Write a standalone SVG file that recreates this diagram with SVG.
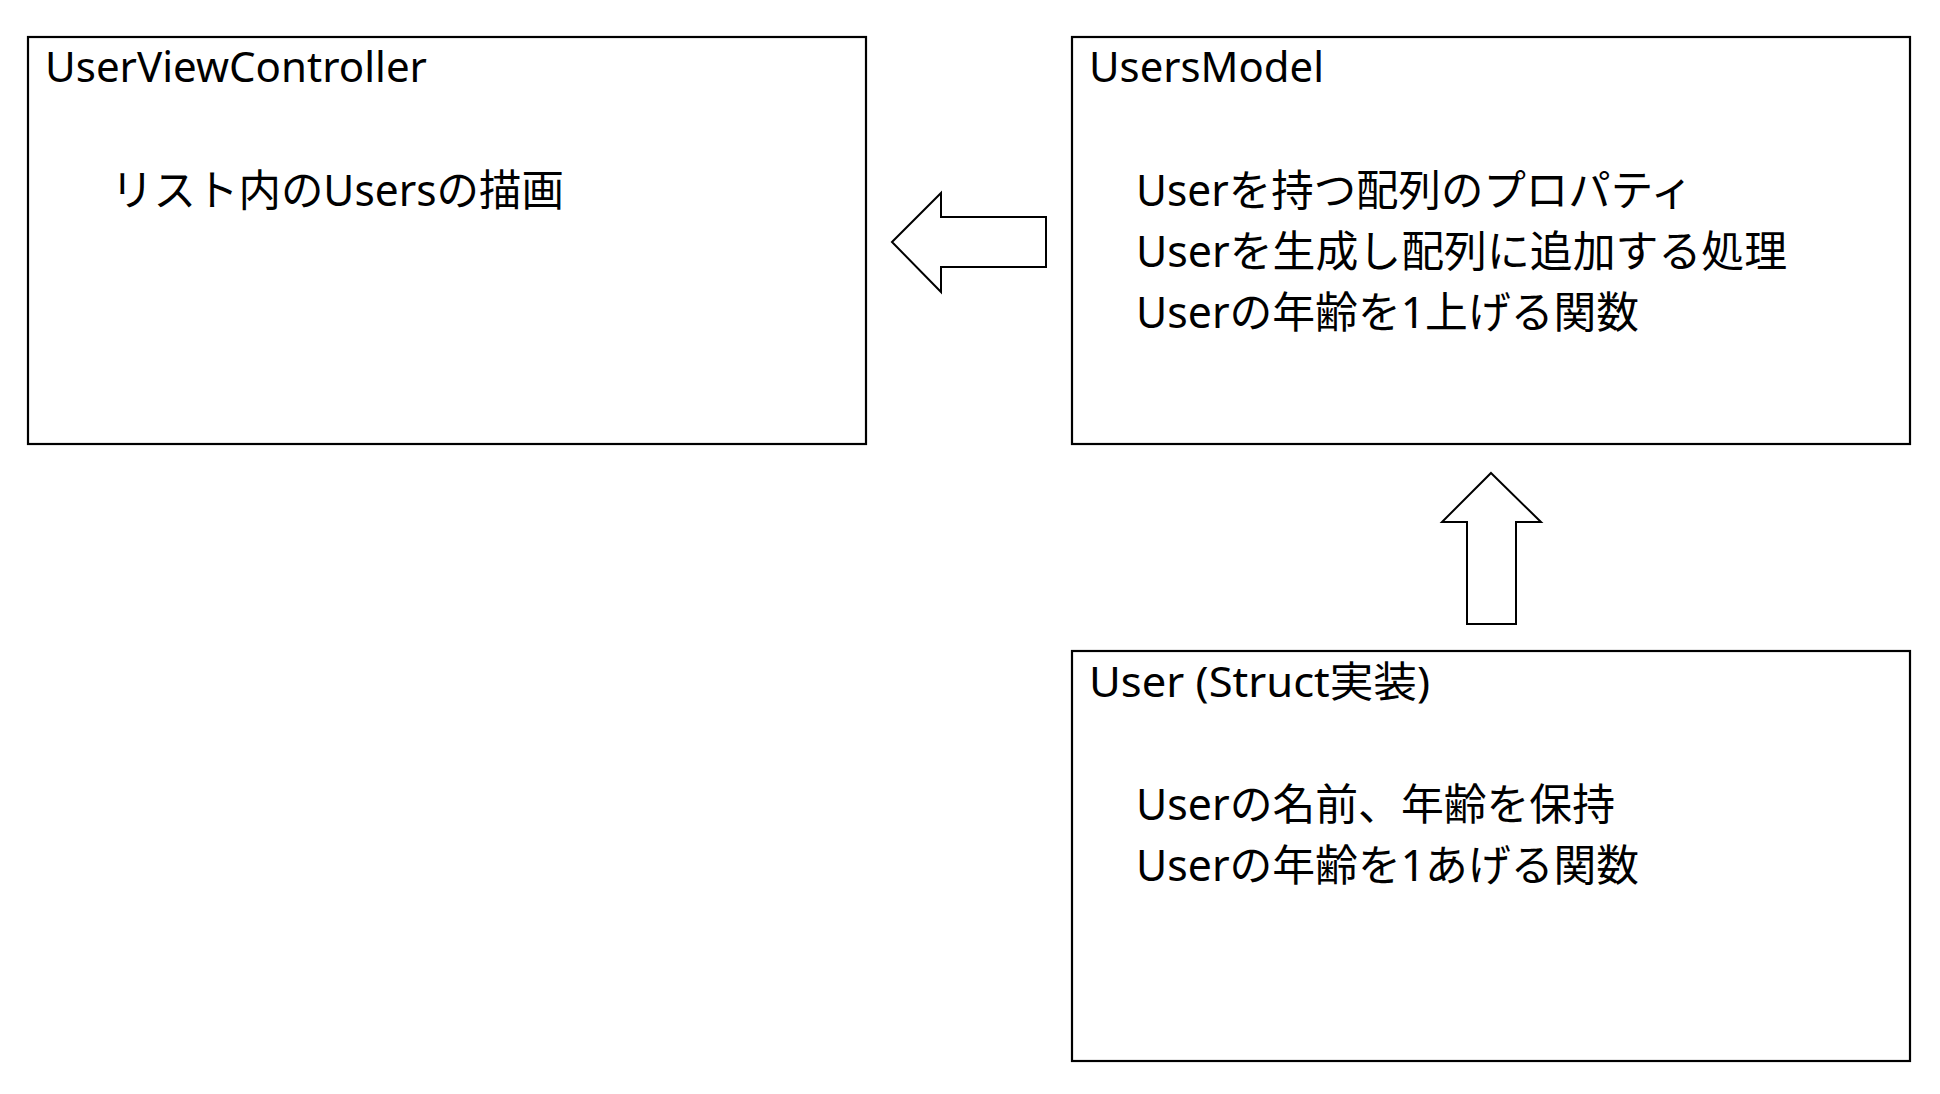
<svg xmlns="http://www.w3.org/2000/svg" width="1940" height="1094" viewBox="0 0 1940 1094">
<style>
.box{fill:#fff;stroke:#000;stroke-width:2.2}
.arr{fill:#fff;stroke:#000;stroke-width:2}
text{font-family:"Noto Sans","Noto Sans CJK JP",sans-serif;font-size:42px;fill:#000}
.b{font-size:43px}
</style>
<rect width="1940" height="1094" fill="#fff"/>
<g id="connectors">
<polygon class="arr" points="892,242 941,193 941,217 1046,217 1046,267 941,267 941,292"/>
<polygon class="arr" points="1491,473 1541,522 1516,522 1516,624 1467,624 1467,522 1442,522"/>
</g>
<g id="UserViewController">
<rect class="box" x="28" y="37" width="838" height="407"/>
<text x="45" y="82" textLength="382" lengthAdjust="spacingAndGlyphs">UserViewController</text>
<text class="b" x="111" y="206" textLength="453" lengthAdjust="spacingAndGlyphs">リスト内のUsersの描画</text>
</g>
<g id="UsersModel">
<rect class="box" x="1072" y="37" width="838" height="407"/>
<text x="1089" y="82" textLength="235" lengthAdjust="spacingAndGlyphs">UsersModel</text>
<text class="b" x="1136" y="206" textLength="557" lengthAdjust="spacingAndGlyphs">Userを持つ配列のプロパティ</text>
<text class="b" x="1136" y="267" textLength="651" lengthAdjust="spacingAndGlyphs">Userを生成し配列に追加する処理</text>
<text class="b" x="1136" y="328" textLength="503" lengthAdjust="spacingAndGlyphs">Userの年齢を1上げる関数</text>
</g>
<g id="User">
<rect class="box" x="1072" y="651" width="838" height="410"/>
<text x="1089" y="697" textLength="341" lengthAdjust="spacingAndGlyphs">User (Struct実装)</text>
<text class="b" x="1136" y="820" textLength="479" lengthAdjust="spacingAndGlyphs">Userの名前、年齢を保持</text>
<text class="b" x="1136" y="881" textLength="503" lengthAdjust="spacingAndGlyphs">Userの年齢を1あげる関数</text>
</g>
</svg>
